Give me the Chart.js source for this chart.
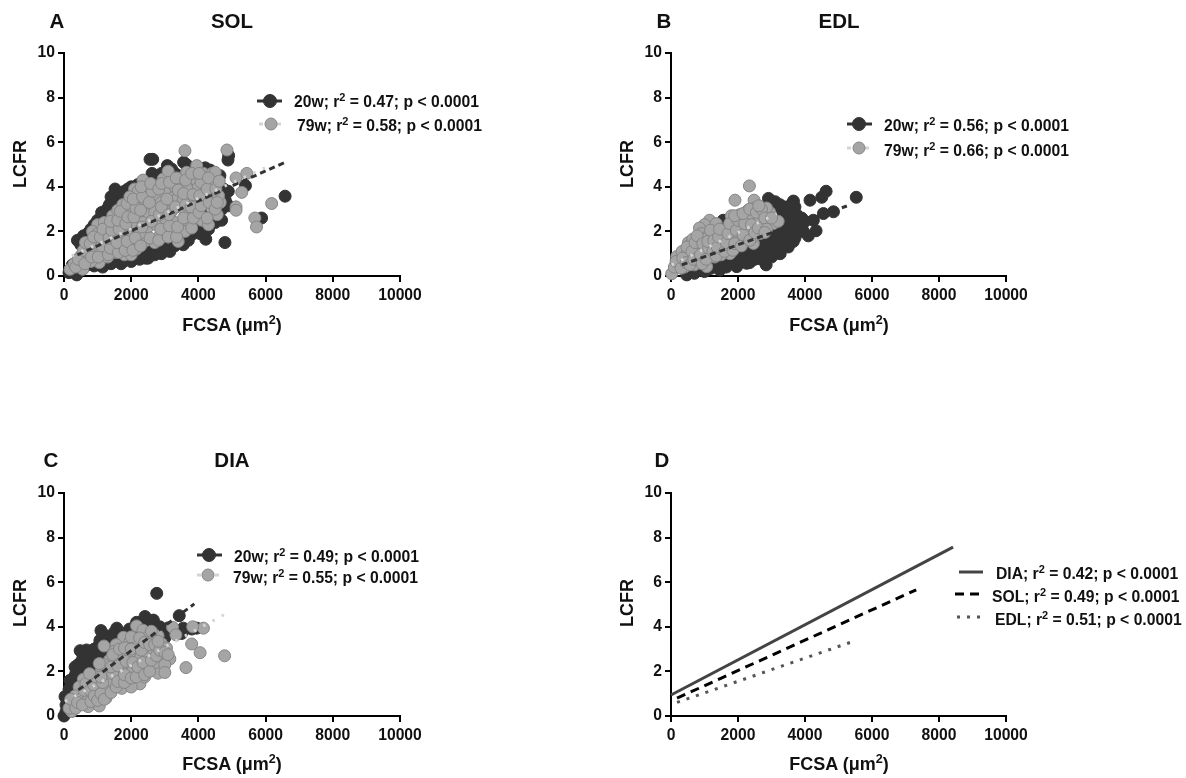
<!DOCTYPE html>
<html><head><meta charset="utf-8">
<script src="https://cdn.jsdelivr.net/npm/chart.js@4"></script>
<style>
html,body{margin:0;padding:0;background:#fff;width:1186px;height:778px;overflow:hidden}
body{position:relative;font-family:"Liberation Sans",Arial,sans-serif;font-weight:bold;color:#111}
canvas{position:absolute}
.t{position:absolute;white-space:nowrap;line-height:20px}
.t sup{font-size:70%;line-height:0;vertical-align:baseline;position:relative;top:-.55em}
.h{font-size:20.5px}.ax{font-size:18px}.lg{font-size:15.7px}
.yl{transform:translate(-50%,-50%) rotate(-90deg)}
.xl,.ti{transform:translate(-50%,-50%)}
svg{position:absolute;overflow:visible}
</style></head><body>
<script>
const xTicks=[0,2000,4000,6000,8000,10000];
const yTicks=[0,2,4,6,8,10];

const sol20=[[2560,5.23],[2640,5.23],[2620,4.6],[3075,4.95],[3560,5.1],[3640,5.0],[4880,5.2],[4900,5.4],[6580,3.58],[5880,2.6],[4790,1.5],[4220,1.65],[3850,1.9],[3650,1.8],[3290,1.35],[3550,1.4],[3150,1.1],[2430,0.8],[2500,0.8],[400,1.6],[1520,3.9],[1400,3.55],[1120,2.85],[4350,4.75],[4640,4.5],[5400,4.05],[4890,3.8],[4690,2.5],[4900,3.15],[580,1.8],
[300,0.25],[380,0.05],[600,0.4],[900,0.45],[1150,0.4],[1400,0.55],[1700,0.55],[2000,0.65],[2250,0.75],[2700,0.95],[2900,1.0],[800,2.1],[1000,2.5],[1280,3.0],[1600,3.5],[1800,3.8],[2000,4.0],[2200,4.1],[2400,4.2],[1250,2.8],[1500,3.2],[700,1.9],[3000,4.5],[3300,4.6],[3800,4.3],[4100,4.5],[4450,3.8],[4600,3.4],[4300,2.9],[4000,2.5],[3800,2.1],[3500,2.0],[3200,1.7],[2900,1.4],[2600,1.2],[2200,1.1],[1900,0.9],[1600,0.8],[1300,0.8],[1000,0.8],[800,0.7],[1500,1.5],[2000,2.0],[2500,2.5],[3000,3.0],[3500,3.5],[4000,3.6],[4400,3.4],[2800,3.6],[2300,3.2],[1800,2.7],
[500,1.4],[900,2.3],[1100,2.6],[1350,3.2],[1650,3.7],[1900,3.9],[2500,3.9],[2700,4.3],[2900,4.6],[3200,4.8],[3400,4.5],[3700,4.8],[4200,4.85],[4500,4.2],[4750,3.9],[4800,3.4],[4700,3.0],[4500,2.4],[4300,2.1],[4000,2.0],[3700,1.6],[3400,1.55],[3000,1.2],[2700,1.1],[2400,1.0],[2100,0.85],[1800,0.7],[1500,0.7],[1200,0.6],[1000,0.6],[700,0.5],[500,0.3],[250,0.5],[150,0.15],[3650,2.1],[4050,1.9],[4450,2.6]];
const sol79=[[3600,5.62],[4850,5.65],[5440,4.6],[5120,4.4],[5290,3.75],[5120,3.1],[5120,2.95],[5680,2.6],[5730,2.2],[6180,3.25],
[180,0.3],[300,0.55],[560,0.3],[500,0.9],[700,1.3],[900,1.6],[1000,2.3],[850,2.0],[1200,2.4],[1450,2.7],[1600,2.95],[1750,3.2],[1050,0.6],[800,0.65],[1100,1.0],[1300,0.85],[1500,1.05],[1800,0.95],[2000,0.95],[2150,1.2],[2400,1.55],[2700,1.5],[3000,1.9],[3400,1.55],[3450,2.1],[3700,2.4],[3850,2.8],[4100,2.5],[4300,2.3],[4560,2.75],[4650,3.3],[4400,3.05],[4150,3.4],[2100,3.9],[2200,3.8],[2350,4.3],[2500,3.55],[2700,4.0],[2950,4.35],[3100,4.7],[3000,3.85],[3250,3.5],[3500,4.4],[3650,4.65],[3950,4.95],[3900,4.35],[4150,4.6],[4400,4.6],[4500,4.65],[4350,4.1],[3950,3.9],[3650,3.95],[3300,4.0],[2800,3.6],[2500,3.0],[2250,2.7],[2050,2.4],[1850,2.1],[1650,1.8],[1400,1.5],[1200,1.25],[950,1.05],[1000,1.9],[1250,1.9],[1500,2.25],[1700,2.55],[1950,2.9],[2200,3.2],[2450,2.75],[2700,2.85],[3000,3.1],[3200,2.9],[3550,3.0],[3800,3.35],[4200,3.75],[4600,3.6],[2000,1.5],[1750,1.4],[2250,1.9],[2500,2.2],[2750,2.3],[3000,2.6],[3300,2.4],[3600,2.0],[2850,1.8],[3150,1.95],[1300,2.1],[1100,1.6],[750,1.1],[650,0.9],[1550,1.2],[1900,1.8],[2350,2.4],[1850,3.0],[2400,3.4],[2900,3.3],[3400,3.5],[3550,3.4],
[350,0.4],[420,0.75],[620,0.55],[580,1.15],[640,1.5],[820,0.85],[780,1.45],[880,1.75],[1020,0.85],[1120,1.35],[1080,1.75],[1160,2.1],[1320,0.95],[1380,1.25],[1340,1.7],[1420,2.05],[1380,2.45],[1620,1.05],[1580,1.5],[1640,2.1],[1600,2.5],[1680,2.9],[1820,1.15],[1880,1.55],[1840,2.35],[1900,2.65],[1880,3.25],[1960,3.55],[2050,1.15],[2120,1.7],[2080,2.65],[2140,3.05],[2060,3.45],[2280,1.35],[2320,2.2],[2280,2.95],[2340,3.55],[2300,4.0],[2560,1.7],[2600,2.45],[2540,3.3],[2620,3.8],[2580,4.15],[2820,1.6],[2880,2.1],[2840,2.75],[2900,3.1],[2820,3.9],[2900,4.15],[3100,1.75],[3140,2.25],[3120,2.75],[3060,3.45],[3140,4.2],[3350,1.75],[3380,2.2],[3320,3.1],[3400,3.85],[3340,4.4],[3560,2.6],[3620,3.2],[3560,3.7],[3620,4.3],[3800,2.15],[3850,2.6],[3780,3.1],[3840,3.65],[3800,4.6],[4020,2.85],[4080,3.15],[4040,3.6],[4080,4.2],[4020,4.6],[4260,2.6],[4320,3.3],[4260,3.9],[4300,4.4],[4500,3.0],[4520,3.9],[4620,4.25],[4560,3.3]];
const sol20Fit=[[400,0.95],[6580,5.1]];
const sol79Fit=[[230,0.9],[5980,4.85]];

const edl20=[[5530,3.53],[4630,3.8],[4500,3.53],[4150,3.4],[3655,3.36],[2910,3.48],[3110,3.33],[3360,3.1],[4850,2.88],[4550,2.8],[4250,2.5],[3900,2.6],[4330,2.03],[4100,1.8],[3700,1.7],[2840,0.5],[1960,0.42],[1560,2.5],[470,0.05],[700,0.12],[1000,0.2],[1460,0.27],[1650,0.4],[2260,0.57],[2500,0.75],[3000,0.85],[3260,1.0],[3500,1.3],[3400,1.9],[3600,2.2],[3850,2.1],[3300,2.4],[3550,2.7],[3250,2.7],[3650,2.95],[3000,2.6],[3200,1.5],[2900,1.2],[2600,1.0],[2300,0.9],[2000,0.7],[1750,0.6],[1300,0.5],[2800,1.6],[3000,2.0],[2700,2.0],[2500,1.4],[2200,1.2],[1900,1.0],[1600,0.8],[3300,3.0],[3700,3.1],[3800,2.4],[3450,1.6],[2950,2.9],[1000,0.5],
[800,0.3],[1200,0.35],[1150,0.8],[1400,0.7],[1700,0.9],[1550,1.15],[1850,1.25],[2050,0.95],[2150,1.5],[2400,0.8],[2450,1.2],[2350,1.7],[2700,1.0],[2650,1.35],[2750,1.75],[2600,2.2],[2850,2.3],[2850,0.95],[3000,1.3],[3050,1.65],[3100,2.2],[3150,2.6],[3100,3.0],[3300,1.25],[3350,1.7],[3250,2.05],[3450,2.2],[3350,2.55],[3500,2.5],[3450,2.9],[3500,1.8],[3650,1.55],[3750,1.9],[3700,2.45],[3900,2.3],[3750,2.75],[3550,3.15],[3250,3.2],[2950,3.2],[3950,2.0],[4000,2.45],[2150,0.65],[2350,0.6],[2700,0.75],[3100,1.0],[1100,0.3]];
const edl79=[[2340,4.04],[1910,3.4],[2480,3.4],[20,0.1],[1150,2.5],[1350,2.35],[1000,2.3],[850,2.15],[520,1.5],[600,1.45],[170,0.87],[330,1.1],[3060,2.35],[3200,2.45],[2950,2.85],[2850,3.05],[2500,3.05],[2300,2.95],[2050,2.75],[1800,2.7],[2460,1.46],[1760,1.0],[1065,0.42],[700,0.5],[400,0.4],[250,0.6],[2750,2.2],[2500,2.5],[2300,2.05],[2050,2.3],[1800,2.15],[1950,1.7],[1500,1.55],[1250,1.35],[1000,1.3],[800,1.2],[400,0.85],[750,1.0],[900,0.7],[1300,0.85],[1550,1.2],[1750,1.5],[2150,1.55],[900,1.9],[1150,1.9],[1000,1.65],[1300,1.95],[650,1.65],[500,1.05],[600,0.8],[1150,1.05],[2650,2.65],[2300,2.7],[2650,1.9],[2450,1.75],[1600,1.9],[1500,0.95],
[100,0.4],[150,0.65],[300,0.35],[350,0.8],[450,0.6],[480,1.3],[560,0.5],[620,1.1],[680,0.75],[720,1.5],[780,1.8],[880,0.95],[930,0.55],[950,1.45],[1050,0.75],[1120,1.25],[1100,1.55],[1180,2.05],[1250,1.1],[1280,1.6],[1350,0.9],[1380,1.3],[1420,1.75],[1450,2.1],[1600,1.1],[1650,1.5],[1700,1.9],[1750,2.35],[1850,1.15],[1900,1.45],[1950,2.05],[2000,2.5],[1900,2.7],[2100,1.35],[2150,1.85],[2200,2.35],[2150,2.8],[2350,1.6],[2400,2.3],[2350,3.0],[2500,1.95],[2550,2.85],[2600,2.15],[2700,3.0],[2800,2.6],[2850,2.1],[2800,1.95],[3000,2.6],[2620,3.15]];
const edl20Fit=[[320,0.5],[5250,3.14]];
const edl79Fit=[[20,0.5],[3160,2.8]];

const dia20=[[2760,5.5],[3430,4.5],[3550,3.94],[3950,3.94],[2410,4.46],[2660,4.3],[2160,4.2],[1570,3.94],[1500,3.75],[1100,3.83],[480,2.93],[670,2.96],[0,0],[30,0.87],[180,1.6],[330,2.2],[1070,3.4],[2850,4.0],[3000,3.8],[60,0.5],[250,1.0],[450,1.7],[500,2.4],[700,2.6],[900,3.0],[850,2.4],[1200,3.35],[1400,3.4],[1700,3.6],[1950,3.9],[2450,4.1],[600,2.1],[350,1.3],[150,1.2],[1000,2.8],
[60,0.2],[100,0.8],[120,0.4],[200,1.3],[250,0.7],[280,1.7],[350,1.9],[400,1.0],[420,2.3],[520,1.4],[550,2.0],[560,2.6],[650,1.8],[700,2.3],[750,2.85],[800,2.0],[850,2.7],[950,2.2],[1000,2.6],[1050,3.2],[1150,2.5],[1200,3.0],[1250,3.6],[1350,2.9],[1400,3.1],[1450,3.6],[1600,3.3],[1700,3.0],[1800,3.7],[1850,3.3],[2050,3.6],[2200,3.9],[2300,3.4],[2550,3.9],[2700,3.6],[3000,3.5],[3100,3.95],[3800,3.9],[3500,3.7]];
const dia79=[[4150,3.94],[3830,4.0],[3230,3.98],[3330,3.64],[3800,3.23],[4050,2.84],[4780,2.7],[3630,2.17],[3150,2.56],[2160,4.04],[1770,3.53],[1190,3.14],[575,1.65],[230,0.57],[230,0.2],[720,0.42],[1050,0.45],[1720,1.24],[2260,1.44],[2800,1.92],[450,1.3],[330,0.9],[500,0.75],[730,0.8],[1250,0.8],[1300,1.3],[1000,1.2],[850,1.6],[1100,2.0],[1350,2.5],[1550,3.2],[1500,2.9],[1950,3.3],[2150,3.2],[2350,3.85],[2500,3.55],[2800,3.6],[2900,3.25],[3050,3.05],[2950,2.6],[2750,2.4],[2450,2.15],[2450,2.75],[2200,2.6],[1950,2.8],[1750,2.3],[1600,1.9],[1400,1.6],[1900,1.6],[2050,2.05],[2400,1.75],[2650,3.0],[1650,2.65],[1250,1.9],[2000,1.3],
[150,0.35],[200,0.75],[350,0.35],[400,0.6],[550,0.5],[600,1.15],[650,1.45],[800,0.65],[780,1.15],[900,0.9],[880,1.4],[950,1.75],[1000,0.7],[1100,1.0],[1150,1.5],[1100,1.75],[1200,2.3],[1200,0.75],[1400,1.05],[1450,1.9],[1400,2.2],[1450,2.75],[1550,1.3],[1600,1.55],[1600,2.25],[1650,3.0],[1800,1.5],[1800,1.85],[1850,2.45],[1800,3.05],[2000,1.7],[2050,2.4],[2000,3.0],[2000,3.55],[2150,1.75],[2200,2.2],[2300,2.95],[2250,3.5],[2400,1.85],[2350,2.4],[2400,3.3],[2550,2.0],[2600,2.5],[2550,3.2],[2600,3.8],[2750,2.7],[2700,3.2],[2850,2.95],[2800,3.35],[3000,2.3],[3000,2.85],[3100,2.75],[3000,1.95],[1050,2.35],[760,1.9]];
const dia20Fit=[[430,1.17],[3880,5.03]];
const dia79Fit=[[30,0.65],[4760,4.54]];

const diaFit=[[0,0.94],[8420,7.57]];
const solFit=[[180,0.8],[7320,5.66]];
const edlFit=[[180,0.61],[5370,3.31]];

const panelTitles=["A","B","C","D"];
const muscleTitles=["SOL","EDL","DIA"];
const xTitle='FCSA (μm<sup>2</sup>)', yTitle='LCFR';
const legendA=['20w; r<sup>2</sup> = 0.47; p &lt; 0.0001','79w; r<sup>2</sup> = 0.58; p &lt; 0.0001'];
const legendB=['20w; r<sup>2</sup> = 0.56; p &lt; 0.0001','79w; r<sup>2</sup> = 0.66; p &lt; 0.0001'];
const legendC=['20w; r<sup>2</sup> = 0.49; p &lt; 0.0001','79w; r<sup>2</sup> = 0.55; p &lt; 0.0001'];
const legendD=['DIA; r<sup>2</sup> = 0.42; p &lt; 0.0001','SOL; r<sup>2</sup> = 0.49; p &lt; 0.0001','EDL; r<sup>2</sup> = 0.51; p &lt; 0.0001'];

const DARK='#333333', GREY='#a5a5a5', GREYB='#858585', LIGHT='#d4d4d4';
const toPts=a=>a.map(p=>({x:p[0],y:p[1]}));
const pts=(label,d,bg,bd,order)=>({type:'scatter',label,data:toPts(d),backgroundColor:bg,borderColor:bd,borderWidth:1,pointRadius:6,clip:false,order});
const fit=(label,d,color,dash,w,order)=>({type:'scatter',label,data:toPts(d),showLine:true,borderColor:color,borderWidth:w,borderDash:dash,pointRadius:0,fill:false,clip:false,order});

function panel(left,top,x0,x1,datasets){
  const c=document.createElement('canvas');
  const W=x1+30, H=316+10;
  c.width=W;c.height=H;c.style.left=left+'px';c.style.top=top+'px';
  document.body.appendChild(c);
  const tick=v=>String(v);
  const font={family:'"Liberation Sans",Arial,sans-serif',size:15.7,weight:'bold'};
  new Chart(c,{data:{datasets},options:{responsive:false,animation:false,events:[],
    layout:{padding:{top:53,right:W-x1,bottom:H-316,left:0}},
    plugins:{legend:{display:false},tooltip:{enabled:false},title:{display:false}},
    scales:{
      x:{type:'linear',min:0,max:10000,afterFit(s){s.height=40},afterBuildTicks(s){s.ticks=xTicks.map(v=>({value:v}))},
        border:{color:'#000',width:2},grid:{drawOnChartArea:false,color:'#000',tickColor:'#000',tickLength:6,lineWidth:2},
        ticks:{color:'#111',font,padding:4,maxRotation:0,autoSkip:false,callback:tick}},
      y:{type:'linear',min:0,max:10,afterFit(s){s.width=x0},afterBuildTicks(s){s.ticks=yTicks.map(v=>({value:v}))},
        border:{color:'#000',width:2},grid:{drawOnChartArea:false,color:'#000',tickColor:'#000',tickLength:6,lineWidth:2},
        ticks:{color:'#111',font,padding:3,autoSkip:false,callback:tick}}
    }}});
}
function text(cls,html,x,y){
  const d=document.createElement('div');d.className='t '+cls;d.innerHTML=html;
  d.style.left=x+'px';d.style.top=y+'px';document.body.appendChild(d);
}
function swatch(x1,x2,y,color,dash,w,cx,fillC,stroke,r){
  const s=document.createElementNS('http://www.w3.org/2000/svg','svg');
  s.setAttribute('width',1186);s.setAttribute('height',778);s.style.left=0;s.style.top=0;
  let h=`<line x1="${x1}" y1="${y}" x2="${x2}" y2="${y}" stroke="${color}" stroke-width="${w}" ${dash?`stroke-dasharray="${dash}"`:''}/>`;
  if(cx) h+=`<circle cx="${cx}" cy="${y}" r="${r}" fill="${fillC}" stroke="${stroke}"/>`;
  s.innerHTML=h;document.body.appendChild(s);
}

panel(0,0,64,400,[pts('20w',sol20,DARK,DARK,4),pts('79w',sol79,GREY,GREYB,3),fit('20w fit',sol20Fit,DARK,[6,4],3,2),fit('79w fit',sol79Fit,LIGHT,[2.5,8],3,1)]);
panel(607,0,64,399,[pts('20w',edl20,DARK,DARK,4),pts('79w',edl79,GREY,GREYB,3),fit('20w fit',edl20Fit,DARK,[6,4],3,2),fit('79w fit',edl79Fit,LIGHT,[2.5,8],3,1)]);
panel(0,440,64,400,[pts('20w',dia20,DARK,DARK,4),pts('79w',dia79,GREY,GREYB,3),fit('20w fit',dia20Fit,DARK,[6,4],3,2),fit('79w fit',dia79Fit,LIGHT,[2.5,8],3,1)]);
panel(607,440,64,399,[fit('DIA',diaFit,'#444444',[],3,3),fit('SOL',solFit,'#000000',[9,6],3,2),fit('EDL',edlFit,'#555555',[3,7],3,1)]);

[[57,21,0],[664,21,1],[51,460,2],[662,460,3]].forEach(p=>text('h ti',panelTitles[p[2]],p[0],p[1]));
[[232,21,0],[839,21,1],[232,460,2]].forEach(p=>text('h ti',muscleTitles[p[2]],p[0],p[1]));
[[232,325],[839,325],[232,764],[839,764]].forEach(p=>text('ax xl',xTitle,p[0],p[1]));
[[20,164],[627,164],[20,603],[627,603]].forEach(p=>text('ax yl',yTitle,p[0],p[1]));

swatch(257,282,101,DARK,'',3,270,DARK,DARK,6.5);swatch(259,283,124,LIGHT,'4 5',3,271,GREY,GREYB,6);
swatch(847,872,124,DARK,'',3,859,DARK,DARK,6.5);swatch(847,872,148,LIGHT,'4 5',3,859,GREY,GREYB,6);
swatch(197,222,555,DARK,'',3,209,DARK,DARK,6.5);swatch(197,222,575,LIGHT,'4 5',3,208,GREY,GREYB,6);
swatch(959,983,572,'#444444','',3);swatch(955,980,594,'#000000','9 6',3);swatch(957,982,617,'#555555','3 7',3);
text('lg',legendA[0],294,92);text('lg',legendA[1],297,116);
text('lg',legendB[0],884,116);text('lg',legendB[1],884,141);
text('lg',legendC[0],234,547);text('lg',legendC[1],233,568);
text('lg',legendD[0],996,564);text('lg',legendD[1],992,587);text('lg',legendD[2],995,610);
</script>
</body></html>
